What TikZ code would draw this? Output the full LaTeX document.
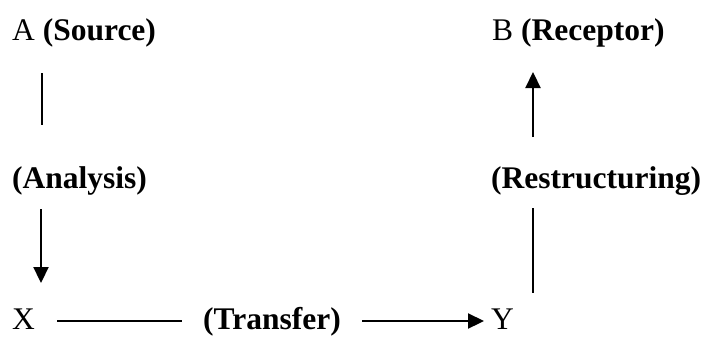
\documentclass[tikz,border=0pt]{standalone}
\usepackage{fontspec}
\setmainfont{Liberation Serif}
\usetikzlibrary{arrows.meta}
\begin{document}
\begin{tikzpicture}[x=1bp,y=-1bp,
  lbl/.style={anchor=base west,inner sep=0pt,font=\fontsize{31.5bp}{36bp}\selectfont},
  conn/.style={line width=2.2bp},
  arr/.style={conn,-{Triangle[length=16bp,width=15bp]}}]
\useasboundingbox (0,0) rectangle (706,336);
\node[lbl] (A) at (12,40) {A \textbf{(Source)}};
\node[lbl] (B) at (492,40) {B \textbf{(Receptor)}};
\node[lbl] (an) at (12,188) {\textbf{(Analysis)}};
\node[lbl] (re) at (491,188) {\textbf{(Restructuring)}};
\node[lbl] (X) at (12,329) {X};
\node[lbl] (tr) at (203,329) {\textbf{(Transfer)}};
\node[lbl] (Y) at (491,329) {Y};
\coordinate (a1) at (42,73);
\coordinate (a2) at (42,125);
\coordinate (d1) at (41,209);
\coordinate (d2) at (41,283);
\coordinate (x1) at (57,321);
\coordinate (x2) at (182,321);
\coordinate (t1) at (362,321);
\coordinate (t2) at (484,321);
\coordinate (r1) at (533,208);
\coordinate (r2) at (533,293);
\coordinate (u1) at (533,137);
\coordinate (u2) at (533,72);
\draw[conn] (a1) -- (a2);
\draw[arr] (d1) -- (d2);
\draw[conn] (x1) -- (x2);
\draw[arr] (t1) -- (t2);
\draw[conn] (r1) -- (r2);
\draw[arr] (u1) -- (u2);
\end{tikzpicture}
\end{document}
